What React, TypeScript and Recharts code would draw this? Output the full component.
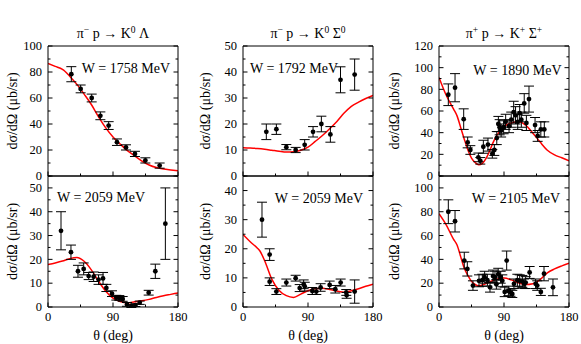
import { ComposedChart, Line, Scatter, ErrorBar, XAxis, YAxis } from 'recharts';

const FONT = '"Liberation Serif", "Times New Roman", serif';

// ---- pi- p -> K0 Lambda, W = 1758 MeV
const LAM1758_THETA = [32.3, 45.2, 60.5, 72.5, 84, 95.5, 108, 120.4, 134.8, 154.6];
const LAM1758_DS = [78.3, 67, 60, 46.3, 38.8, 26, 22, 17, 12, 8];
const LAM1758_ERR = [5.8, 3, 3, 3, 3, 2.5, 2, 2, 2, 2];
const LAM1758_FIT_THETA = [0, 10, 20, 23, 30, 40, 50, 60, 70, 80, 90, 100, 110, 120, 130, 140, 150, 160, 170, 180];
const LAM1758_FIT = [86.5, 84.3, 82, 80.8, 76.8, 70.5, 63, 55, 45.5, 37, 30, 24.5, 19.5, 15.5, 11.5, 8.5, 6.5, 5.3, 4.6, 4];

// ---- pi- p -> K0 Lambda, W = 2059 MeV
const LAM2059_THETA = [18, 31.8, 41.5, 49.4, 56.3, 63.2, 70, 76.2, 80.8, 88.6, 94.6, 98.8, 103.4, 109.4, 115.4, 121, 127, 139.4, 148.6, 162.5];
const LAM2059_DS = [32, 23, 15, 16, 13, 12.7, 11.5, 12, 8, 5.6, 3.9, 3.8, 3.4, 1.1, 0.4, 0.8, 1.8, 6, 15, 35];
const LAM2059_ERR = [8, 3, 2.5, 2.5, 1.5, 2, 2, 2.5, 1.5, 1.2, 1, 1, 1, 0.8, 0.6, 0.6, 0.7, 1, 3, 15];
const LAM2059_FIT_THETA = [0, 10, 20, 30, 40, 50, 60, 70, 80, 90, 100, 110, 120, 130, 140, 150, 160, 170, 180];
const LAM2059_FIT = [17.8, 18.5, 19.3, 20.3, 20.8, 19.2, 15.6, 10.8, 6.6, 3.7, 2.3, 1.8, 2.2, 2.6, 3.2, 4, 4.7, 5.3, 5.9];

// ---- pi- p -> K0 Sigma0, W = 1792 MeV
const SIG0_1792_THETA = [32.3, 46.2, 60, 72.9, 85.4, 97, 108.5, 121, 135, 154.6];
const SIG0_1792_DS = [17, 18, 11.1, 10, 12, 17, 20, 16, 37, 39];
const SIG0_1792_ERR = [3, 2, 1, 1, 2, 2, 3, 3, 5, 6];
const SIG0_1792_FIT_THETA = [0, 10, 20, 30, 40, 50, 60, 70, 80, 90, 100, 110, 120, 130, 140, 150, 160, 170, 180];
const SIG0_1792_FIT = [10.9, 10.8, 10.6, 10.3, 9.9, 9.5, 9.2, 9.3, 9.9, 11.1, 13.3, 15.6, 18.2, 21, 24.2, 26.8, 28.4, 29.8, 31];

// ---- pi- p -> K0 Sigma0, W = 2059 MeV
const SIG0_2059_THETA = [26.3, 36.9, 36.9, 46.2, 60, 72.9, 78.5, 84, 85.5, 96, 101.5, 107.5, 120, 127.8, 135.2, 143, 143.5, 154.6];
const SIG0_2059_DS = [30, 18, 8.7, 5.3, 8.4, 9.9, 6.5, 7.8, 7, 5.5, 5.3, 6.7, 7.6, 6.1, 8.4, 5, 4, 5.3];
const SIG0_2059_ERR = [6, 2, 1.3, 1, 1.2, 1, 1.2, 1.5, 1.5, 1.2, 1, 1.3, 1.3, 1.3, 1.2, 1, 1, 4];
const SIG0_2059_FIT_THETA = [0, 10, 20, 23, 30, 40, 50, 60, 70, 80, 90, 100, 110, 120, 130, 140, 150, 160, 170, 180];
const SIG0_2059_FIT = [24.9, 22.4, 20.2, 19.4, 15.9, 9.5, 5.7, 3.9, 3.3, 4.4, 5.6, 6.3, 6.4, 6, 5.5, 5.1, 5.6, 6.3, 7.1, 7.8];

// ---- pi+ p -> K+ Sigma+, W = 1890 MeV
const SIGP_1890_THETA = [12.9, 22.2, 34.2, 39.7, 43.4, 54.5, 57.2, 61.4, 67.8, 73.8, 76.6, 80, 82.2, 84, 86, 89.5, 92.3, 97, 100, 103.4, 106, 109, 111.7, 114, 118, 121, 124.6, 133, 136.6, 141, 145.8];
const SIGP_1890_DS = [75, 81.5, 52.5, 31, 24, 17.2, 14, 27, 29, 20.5, 24, 35, 48, 45, 42, 45, 50, 46, 52, 59, 56, 50, 58, 52, 67, 49, 71, 47, 37, 43, 43];
const SIGP_1890_ERR = [10, 13, 9.5, 5, 4, 4, 3, 6, 6, 4, 5, 6, 7, 7, 6, 6, 7, 6, 7, 10, 8, 7, 8, 7, 9, 7, 12, 7, 5, 7, 7];
const SIGP_1890_FIT_THETA = [0, 10, 20, 25, 30, 35, 40, 45, 50, 55, 60, 65, 70, 75, 80, 90, 100, 110, 120, 130, 140, 150, 160, 170, 180];
const SIGP_1890_FIT = [90.9, 74.5, 62, 55.5, 44.8, 34, 24, 16.5, 12.5, 10.4, 11.7, 16, 23, 31, 37.5, 45.5, 49, 50, 47, 39.5, 31.3, 23.8, 19.5, 16.8, 14.1];

// ---- pi+ p -> K+ Sigma+, W = 2105 MeV
const SIGP_2105_THETA = [12.9, 22.2, 35, 39.2, 47, 55.4, 60, 63.2, 67, 70.6, 74.8, 77.5, 79.4, 82, 85.4, 87.7, 91, 93.7, 96, 99, 101.5, 103.8, 108.5, 111.7, 115.4, 118, 120, 125.5, 133.8, 136, 141, 145.4, 157.8];
const SIGP_2105_DS = [80, 72, 39, 32, 18, 22, 22.5, 25, 22.5, 16.5, 26, 25, 19, 27.5, 25, 22, 12.7, 39, 13.5, 12, 11, 19.5, 22.5, 22, 21.5, 19.5, 20.5, 29, 19.5, 18, 12.7, 28, 16.5];
const SIGP_2105_ERR = [10, 9, 7, 6, 4, 5, 5, 5, 5, 4, 5, 5, 4, 5, 5, 5, 4, 8, 4, 3, 3, 4, 5, 5, 5, 4, 5, 5, 4, 4, 3, 6, 7];
const SIGP_2105_FIT_THETA = [0, 10, 20, 25, 30, 35, 40, 45, 50, 55, 60, 70, 80, 90, 100, 110, 120, 130, 140, 150, 160, 170, 180];
const SIGP_2105_FIT = [78.4, 69, 57, 52, 42.3, 32.5, 26.5, 21.5, 18.9, 17.8, 18.5, 21, 23.4, 24.3, 22.8, 20.3, 18.8, 19.5, 23, 28.7, 32, 34.5, 36.7];

const X_TICKS = [0, 45, 90, 135, 180];

type Pt = { x: number; y: number; e?: number };
const zipPts = (t: number[], v: number[], e: number[]): Pt[] => t.map((x, i) => ({ x, y: v[i], e: e[i] }));
const zipFit = (t: number[], v: number[]): Pt[] => t.map((x, i) => ({ x, y: v[i] }));

const steps = (max: number, step: number) => {
  const out: number[] = [];
  for (let v = 0; v <= max + 1e-9; v += step) out.push(Math.round(v * 100) / 100);
  return out;
};

const isMult = (v: number, s: number) => Math.abs(v / s - Math.round(v / s)) < 1e-6;

// ticks point inward, labels sit outside; major ticks are longer
function makeTick(side: 'left' | 'right' | 'top' | 'bottom', majorEvery: number, labelled: boolean, m: number) {
  return (props: any) => {
    const { x, y, payload } = props;
    const v = payload.value as number;
    const major = isMult(v, majorEvery);
    const len = major ? 4.5 : 2.5;
    if (side === 'left') {
      const ax = x + m;
      return (
        <g>
          <line x1={ax} y1={y} x2={ax + len} y2={y} stroke="#000" />
          {labelled && major && (
            <text x={x} y={y} dy="0.34em" textAnchor="end" fontSize={12.5} fontFamily={FONT} fill="#000">{v}</text>
          )}
        </g>
      );
    }
    if (side === 'right') {
      const ax = x - m;
      return <line x1={ax} y1={y} x2={ax - len} y2={y} stroke="#000" />;
    }
    if (side === 'top') {
      const ay = y + m;
      return <line x1={x} y1={ay} x2={x} y2={ay + len} stroke="#000" />;
    }
    const ay = y - m;
    return (
      <g>
        <line x1={x} y1={ay} x2={x} y2={ay - len} stroke="#000" />
        {labelled && major && (
          <text x={x} y={y} dy="0.71em" textAnchor="middle" fontSize={12.5} fontFamily={FONT} fill="#000">{v}</text>
        )}
      </g>
    );
  };
}

const dotShape = (p: any) => <circle cx={p.cx} cy={p.cy} r={2.4} fill="#000" />;

type PanelCfg = {
  px: number;
  py: number;
  plotH: number;
  bottomRow: boolean;
  yMax: number;
  yStep: number;
  pts: Pt[];
  fit: Pt[];
};

const COLS = [48, 243, 439];

const PANELS: PanelCfg[] = [
  { px: COLS[0], py: 46, plotH: 130, bottomRow: false, yMax: 100, yStep: 10, pts: zipPts(LAM1758_THETA, LAM1758_DS, LAM1758_ERR), fit: zipFit(LAM1758_FIT_THETA, LAM1758_FIT) },
  { px: COLS[0], py: 176, plotH: 131, bottomRow: true, yMax: 55, yStep: 5, pts: zipPts(LAM2059_THETA, LAM2059_DS, LAM2059_ERR), fit: zipFit(LAM2059_FIT_THETA, LAM2059_FIT) },
  { px: COLS[1], py: 46, plotH: 130, bottomRow: false, yMax: 50, yStep: 5, pts: zipPts(SIG0_1792_THETA, SIG0_1792_DS, SIG0_1792_ERR), fit: zipFit(SIG0_1792_FIT_THETA, SIG0_1792_FIT) },
  { px: COLS[1], py: 176, plotH: 131, bottomRow: true, yMax: 45, yStep: 5, pts: zipPts(SIG0_2059_THETA, SIG0_2059_DS, SIG0_2059_ERR), fit: zipFit(SIG0_2059_FIT_THETA, SIG0_2059_FIT) },
  { px: COLS[2], py: 46, plotH: 130, bottomRow: false, yMax: 120, yStep: 10, pts: zipPts(SIGP_1890_THETA, SIGP_1890_DS, SIGP_1890_ERR), fit: zipFit(SIGP_1890_FIT_THETA, SIGP_1890_FIT) },
  { px: COLS[2], py: 176, plotH: 131, bottomRow: true, yMax: 110, yStep: 10, pts: zipPts(SIGP_2105_THETA, SIGP_2105_DS, SIGP_2105_ERR), fit: zipFit(SIGP_2105_FIT_THETA, SIGP_2105_FIT) },
];

function Panel({ cfg }: { cfg: PanelCfg }) {
  const { px, py, plotH, bottomRow, yMax, yStep, pts, fit } = cfg;
  const hb = bottomRow ? 24 : 1;
  const mb = bottomRow ? 2 : 12;
  const width = 42 + 130 + 1 + 14;
  const height = 10 + plotH + hb + mb;
  const yTicks = steps(yMax, yStep);
  return (
    <div style={{ position: 'absolute', left: px - 42, top: py - 10 }}>
      <ComposedChart width={width} height={height} margin={{ top: 9, right: 14, bottom: mb, left: 12 }}>
        <XAxis
          xAxisId="b" dataKey="x" type="number" domain={[0, 180]} ticks={X_TICKS} interval={0}
          allowDataOverflow orientation="bottom" height={hb} stroke="#000" tickLine={false}
          tickSize={0} tickMargin={5} tick={makeTick('bottom', 90, bottomRow, 5)}
        />
        <XAxis
          xAxisId="t" type="number" domain={[0, 180]} ticks={X_TICKS} interval={0}
          allowDataOverflow orientation="top" height={1} stroke="#000" tickLine={false}
          tickSize={0} tickMargin={0} tick={makeTick('top', 90, false, 0)}
        />
        <YAxis
          yAxisId="l" dataKey="y" type="number" domain={[0, yMax]} ticks={yTicks} interval={0}
          allowDataOverflow width={30} stroke="#000" tickLine={false}
          tickSize={0} tickMargin={6} tick={makeTick('left', yStep * 2, true, 6)}
        />
        <YAxis
          yAxisId="r" type="number" orientation="right" domain={[0, yMax]} ticks={yTicks} interval={0}
          allowDataOverflow width={1} stroke="#000" tickLine={false}
          tickSize={0} tickMargin={0} tick={makeTick('right', yStep * 2, false, 0)}
        />
        <Line
          xAxisId="b" yAxisId="l" data={fit} dataKey="y" type="monotone"
          stroke="#ff0000" strokeWidth={1.5} dot={false} isAnimationActive={false}
        />
        <Scatter xAxisId="b" yAxisId="l" data={pts} dataKey="y" fill="#000" shape={dotShape} isAnimationActive={false}>
          <ErrorBar dataKey="e" direction="y" width={5} stroke="#000" strokeWidth={1} isAnimationActive={false} />
        </Scatter>
      </ComposedChart>
    </div>
  );
}

const TITLES = [
  { cx: 113, a: 'π', aSup: '−', b: ' p → K', bSup: '0', c: ' Λ', cSup: '' },
  { cx: 308, a: 'π', aSup: '−', b: ' p → K', bSup: '0', c: ' Σ', cSup: '0' },
  { cx: 504, a: 'π', aSup: '+', b: ' p → K', bSup: '+', c: ' Σ', cSup: '+' },
];

const W_LABELS = [
  { x: 170, y: 73, anchor: 'end', text: 'W = 1758 MeV' },
  { x: 57, y: 201.5, anchor: 'start', text: 'W = 2059 MeV' },
  { x: 250, y: 73, anchor: 'start', text: 'W = 1792 MeV' },
  { x: 363, y: 202.5, anchor: 'end', text: 'W = 2059 MeV' },
  { x: 561.5, y: 74.5, anchor: 'end', text: 'W = 1890 MeV' },
  { x: 560, y: 203, anchor: 'end', text: 'W = 2105 MeV' },
];

const YLABEL_X = [17, 209.5, 399];

export default function App() {
  return (
    <div style={{ position: 'absolute', left: 0, top: 0, width: 581, height: 344, background: '#fff', fontFamily: FONT }}>
      {PANELS.map((p, i) => (
        <Panel key={i} cfg={p} />
      ))}
      <svg width={581} height={344} style={{ position: 'absolute', left: 0, top: 0, pointerEvents: 'none' }} fontFamily={FONT} fill="#000">
        {TITLES.map((t, i) => (
          <text key={i} x={t.cx} y={37.5} textAnchor="middle" fontSize={14}>
            {t.a}
            <tspan dy={-5} fontSize={9.5}>{t.aSup}</tspan>
            <tspan dy={5}>{t.b}</tspan>
            <tspan dy={-5} fontSize={9.5}>{t.bSup}</tspan>
            <tspan dy={5}>{t.c}</tspan>
            {t.cSup && <tspan dy={-5} fontSize={9.5}>{t.cSup}</tspan>}
          </text>
        ))}
        {W_LABELS.map((w, i) => (
          <text key={i} x={w.x} y={w.y} textAnchor={w.anchor as any} fontSize={14}>{w.text}</text>
        ))}
        {YLABEL_X.map((x, i) => (
          <g key={i}>
            <text transform={`translate(${x},111) rotate(-90)`} textAnchor="middle" fontSize={14}>dσ/dΩ (μb/sr)</text>
            <text transform={`translate(${x},241.5) rotate(-90)`} textAnchor="middle" fontSize={14}>dσ/dΩ (μb/sr)</text>
          </g>
        ))}
        {COLS.map((c, i) => (
          <text key={i} x={c + 65} y={339.5} textAnchor="middle" fontSize={14}>θ (deg)</text>
        ))}
      </svg>
    </div>
  );
}
